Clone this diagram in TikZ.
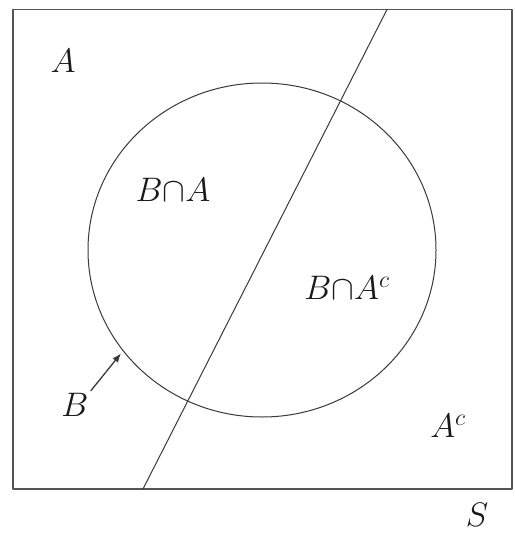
\RequirePackage{fix-cm}
\documentclass[tikz,border=0pt]{standalone}
\usepackage{amssymb}
\usetikzlibrary{arrows.meta,shapes.geometric}
\definecolor{vennInk}{HTML}{1A1A1A}
\definecolor{vennFrame}{HTML}{555555}
\definecolor{vennLine}{HTML}{3A3A3A}

\begin{document}
\begin{tikzpicture}[x=1pt,y=-1pt,>=Latex,line cap=round,line join=round]
\useasboundingbox[fill=white] (0,0) rectangle (514,535);
\tikzset{frame/.style={draw=vennFrame,line width=1.6pt,inner sep=0pt},setline/.style={draw=vennLine,line width=1pt},lbl/.style={text=vennInk,font=\fontsize{34}{40}\selectfont,inner sep=1pt}}
% sample space S and set B
\node[frame,minimum width=499pt,minimum height=479.5pt] (space) at (262.5,249.25) {};
\node[setline,ellipse,minimum width=348pt,minimum height=334pt,inner sep=0pt] (setB) at (262,250) {};
% boundary between A and A^c
\coordinate (cutlow) at (143,489);
\coordinate (cuthigh) at (387,9.5);
\draw[setline] (cutlow) -- (cuthigh);
% labels
\node[lbl] (labA) at (63,61) {$A$};
\node[lbl] (labBA) at (173,190) {$B{\cap}A$};
\node[lbl] (labBAc) at (347,288) {$B{\cap}A^c$};
\node[lbl] (labAc) at (448,426) {$A^c$};
\node[lbl] (labB) at (75,405) {$B$};
\node[lbl] (labS) at (477,515) {$S$};
\draw[setline,line width=1.3pt,-{Latex[length=9pt,width=7pt]},shorten <=2pt,shorten >=3pt] (labB.north east) -- (setB.216.7);
\end{tikzpicture}
\end{document}
